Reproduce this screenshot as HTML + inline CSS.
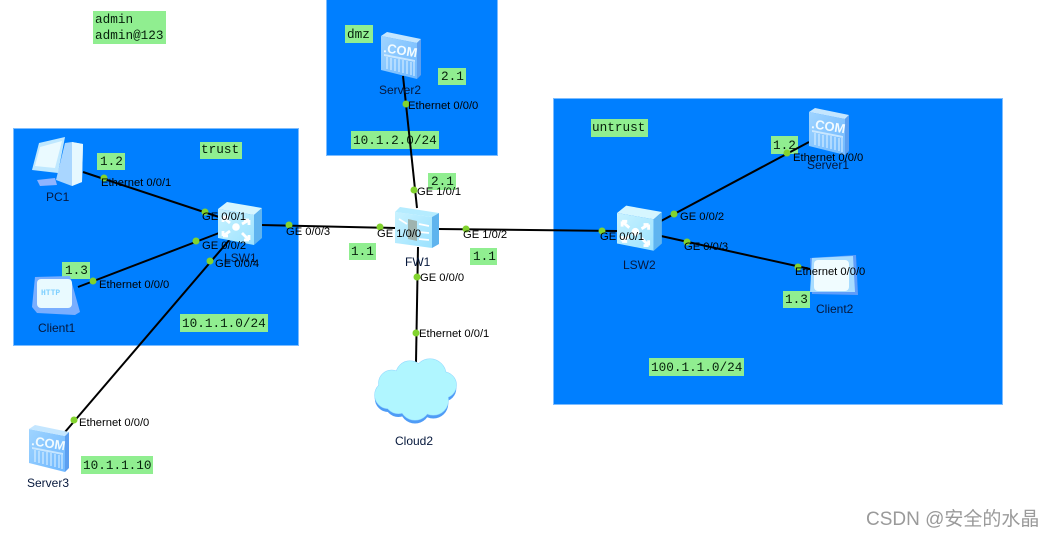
<!DOCTYPE html>
<html><head><meta charset="utf-8"><style>
html,body{margin:0;padding:0;background:#fff;width:1052px;height:537px;overflow:hidden}
svg{display:block}
.l{font:11.2px "Liberation Sans",sans-serif;fill:#000}
.n{font:12px "Liberation Sans",sans-serif;fill:#06183c}
.m{font:12.7px "Liberation Mono",monospace;fill:#06200c}
.g{fill:#90ee90}
.d{fill:#82d32e}
.z{fill:#007fff;stroke:#7cbcff;stroke-width:1}
.c{stroke:#000;stroke-width:2;fill:none}
</style></head><body>
<svg width="1052" height="537" viewBox="0 0 1052 537" xmlns="http://www.w3.org/2000/svg">
<defs>
<linearGradient id="sv" x1="0" y1="0" x2="1" y2="1"><stop offset="0" stop-color="#9fd4ff"/><stop offset="1" stop-color="#6fb8ff"/></linearGradient>
<linearGradient id="sw" x1="0" y1="0" x2="1" y2="1"><stop offset="0" stop-color="#c8f2ff"/><stop offset="1" stop-color="#9ce2ff"/></linearGradient>
<g id="server">
<path d="M0 0L36 7V43L0 34Z" fill="url(#sv)"/>
<path d="M0 0L6 -4L40 3L36 7Z" fill="#c4e6ff"/>
<path d="M36 7L40 3V39L36 43Z" fill="#5c9ff0"/>
<text x="2" y="16" transform="rotate(9 2 16)" font-family="Liberation Sans,sans-serif" font-size="13" font-weight="bold" fill="#f2fbff">.COM</text>
<path d="M3 18L34 24V26L3 20Z" fill="#dff2ff" opacity=".75"/>
<g stroke="#e6f6ff" stroke-width="1.200" opacity=".8"><path d="M6 21V33M10 22V34M14 23V35M18 23V36M22 24V37M26 25V38M30 26V39M33 26V40"/></g>
</g>
<g id="switch">
<path d="M0 0L36 6V36L0 29Z" fill="url(#sw)"/>
<path d="M0 0L9 -7L44 -1L36 6Z" fill="#d6f6ff"/>
<path d="M36 6L44 -1V29L36 36Z" fill="#5fb4f0"/>
<circle cx="18" cy="18" r="3.800" fill="#fff"/>
<g stroke="#fff" stroke-width="2.800" fill="none"><path d="M5 8L12 14M5 8H10M5 8V13M31 11L24 15M31 11H26M31 11V16M5 27L12 22M5 27H10M5 27V22M31 31L24 24M31 31H26M31 31V26"/></g>
</g>
<g id="cloud">
<circle cx="391.700" cy="383.300" r="13"/><circle cx="410" cy="375" r="14"/><circle cx="430" cy="375" r="16"/><circle cx="443.300" cy="385" r="13"/><circle cx="433.300" cy="400" r="15"/><circle cx="415" cy="405" r="15"/><circle cx="398.300" cy="400" r="13.500"/><circle cx="388.300" cy="395" r="13.500"/><circle cx="415" cy="390" r="22"/>
</g>
</defs>
<rect width="1052" height="537" fill="#fff"/>
<rect class="z" x="13.500" y="128.500" width="285" height="217"/>
<rect class="z" x="326.500" y="-1" width="171" height="156.500"/>
<rect class="z" x="553.500" y="98.500" width="449" height="306"/>

<rect class="g" x="93" y="11" width="73" height="33"/>
<text class="m" x="95" y="23">admin</text><text class="m" x="95" y="39">admin@123</text>
<rect class="g" x="97" y="153" width="28" height="17"/><text class="m" x="100" y="165">1.2</text>
<rect class="g" x="200" y="142" width="42" height="17"/><text class="m" x="201" y="153">trust</text>
<rect class="g" x="62" y="262" width="28" height="17"/><text class="m" x="65" y="274">1.3</text>
<rect class="g" x="180" y="314" width="88" height="18"/><text class="m" x="182" y="327">10.1.1.0/24</text>
<rect class="g" x="345" y="25" width="28" height="18"/><text class="m" x="347" y="38">dmz</text>
<rect class="g" x="438" y="68" width="28" height="17"/><text class="m" x="441" y="80">2.1</text>
<rect class="g" x="351" y="131" width="88" height="18"/><text class="m" x="353" y="144">10.1.2.0/24</text>
<rect class="g" x="428" y="173" width="28" height="17"/><text class="m" x="431" y="185">2.1</text>
<rect class="g" x="349" y="243" width="27" height="17"/><text class="m" x="351" y="255">1.1</text>
<rect class="g" x="470" y="248" width="27" height="17"/><text class="m" x="473" y="260">1.1</text>
<rect class="g" x="591" y="119" width="57" height="18"/><text class="m" x="592" y="131">untrust</text>
<rect class="g" x="771" y="136" width="27" height="18"/><text class="m" x="773" y="149">1.2</text>
<rect class="g" x="783" y="291" width="27" height="17"/><text class="m" x="785" y="303">1.3</text>
<rect class="g" x="649" y="358" width="95" height="18"/><text class="m" x="651" y="371">100.1.1.0/24</text>
<rect class="g" x="81" y="456" width="72" height="18"/><text class="m" x="83" y="469">10.1.1.10</text>

<!-- PC1 -->
<g>
<path d="M37 180L55 178L57 185L40 186Z" fill="#8fb4ff"/>
<path d="M65 143L72 142L83 144L82 182L72 186L56 180Z" fill="#a9d6ff"/>
<path d="M72 142L83 144L82 182L72 186Z" fill="#e6f8ff"/>
<path d="M39 143L65 137L58 173L32 170Z" fill="#bfe8ff"/>
<path d="M40 147L62 141L55 168L35 166Z" fill="#eafaff"/>
</g>
<!-- Client1 -->
<path d="M35 277L70 276L80 312L75 315L37 313L32 307Z" fill="#79aeff"/>
<rect x="37" y="279" width="35" height="29" rx="4" fill="#e9faff"/>
<text x="41" y="295" font-family="Liberation Mono,monospace" font-size="8" font-weight="bold" fill="#7fd0ff">HTTP</text>
<!-- Client2 -->
<path d="M810 258L856 255L858 295L812 294Z" fill="#5f9dfa"/>
<path d="M812 258L853 256L855 292L810 292Z" fill="#a8dcff"/>
<rect x="814" y="260" width="35" height="31" rx="4" fill="#f0fcff"/>

<line class="c" x1="83" y1="172" x2="219" y2="217"/>
<line class="c" x1="78" y1="287" x2="219" y2="233"/>
<line class="c" x1="65" y1="432" x2="231" y2="238"/>
<line class="c" x1="261" y1="225" x2="395" y2="228"/>
<line class="c" x1="438" y1="229" x2="617" y2="231"/>
<line class="c" x1="661" y1="221" x2="809" y2="142"/>
<line class="c" x1="661" y1="236" x2="810" y2="269"/>
<line class="c" x1="403" y1="76" x2="417" y2="208"/>
<line class="c" x1="418" y1="247" x2="416" y2="362"/>

<use href="#switch" x="218" y="209"/>
<g transform="translate(617 213) scale(1.020 1.050)"><use href="#switch"/></g>
<!-- FW1 -->
<path d="M395 212L432 217V248L395 243Z" fill="url(#sw)"/>
<path d="M395 212L400 207L439 213L432 217Z" fill="#b5ecff"/>
<path d="M432 217L439 213V244L432 248Z" fill="#5fb4ee"/>
<path d="M408 219L417 221V241L408 239Z" fill="#9fb3ae"/>
<path d="M399 219L407 224M419 224L429 226M419 232L429 233M419 239L429 240" stroke="#fff" stroke-width="1.800"/>
<use href="#server" x="381" y="36"/>
<use href="#server" x="809" y="112"/>
<use href="#server" x="29" y="429"/>
<!-- Cloud -->
<g fill="#4f9cf6" transform="translate(0 3.500)"><use href="#cloud"/></g>
<g fill="#8fd6ff" stroke="#8fd6ff" stroke-width="1"><use href="#cloud"/></g>
<g fill="#b0f6ff"><use href="#cloud"/></g>

<g class="d">
<circle cx="104" cy="178" r="3.500"/><circle cx="205" cy="212" r="3.500"/><circle cx="196" cy="241" r="3.500"/><circle cx="93" cy="281" r="3.500"/><circle cx="210" cy="261" r="3.500"/><circle cx="74" cy="420" r="3.500"/><circle cx="289" cy="225" r="3.500"/><circle cx="380" cy="227" r="3.500"/><circle cx="406" cy="104" r="3.500"/><circle cx="414" cy="190" r="3.500"/><circle cx="466" cy="229" r="3.500"/><circle cx="417" cy="277" r="3.500"/><circle cx="416" cy="333" r="3.500"/><circle cx="602" cy="231" r="3.500"/><circle cx="674" cy="214" r="3.500"/><circle cx="787" cy="153" r="3.500"/><circle cx="687" cy="242" r="3.500"/><circle cx="798" cy="267" r="3.500"/>
</g>

<text class="n" x="46" y="201">PC1</text>
<text class="n" x="38" y="332">Client1</text>
<text class="n" x="224" y="262">LSW1</text>
<text class="n" x="27" y="487">Server3</text>
<text class="n" x="379" y="94">Server2</text>
<text class="n" x="405" y="266">FW1</text>
<text class="n" x="395" y="445">Cloud2</text>
<text class="n" x="623" y="269">LSW2</text>
<text class="n" x="807" y="169">Server1</text>
<text class="n" x="816" y="313">Client2</text>

<text class="l" x="101" y="186">Ethernet 0/0/1</text>
<text class="l" x="202" y="220">GE 0/0/1</text>
<text class="l" x="202" y="249">GE 0/0/2</text>
<text class="l" x="215" y="267">GE 0/0/4</text>
<text class="l" x="99" y="288">Ethernet 0/0/0</text>
<text class="l" x="79" y="426">Ethernet 0/0/0</text>
<text class="l" x="286" y="235">GE 0/0/3</text>
<text class="l" x="377" y="237">GE 1/0/0</text>
<text class="l" x="408" y="109">Ethernet 0/0/0</text>
<text class="l" x="417" y="195">GE 1/0/1</text>
<text class="l" x="463" y="238">GE 1/0/2</text>
<text class="l" x="420" y="281">GE 0/0/0</text>
<text class="l" x="419" y="337">Ethernet 0/0/1</text>
<text class="l" x="600" y="240">GE 0/0/1</text>
<text class="l" x="680" y="220">GE 0/0/2</text>
<text class="l" x="684" y="250">GE 0/0/3</text>
<text class="l" x="793" y="161">Ethernet 0/0/0</text>
<text class="l" x="795" y="275">Ethernet 0/0/0</text>

<text x="866" y="525" font-family="'Liberation Sans','Noto Sans CJK SC',sans-serif" font-size="19" fill="#9a9a9a">CSDN @安全的水晶</text>
</svg>
</body></html>
